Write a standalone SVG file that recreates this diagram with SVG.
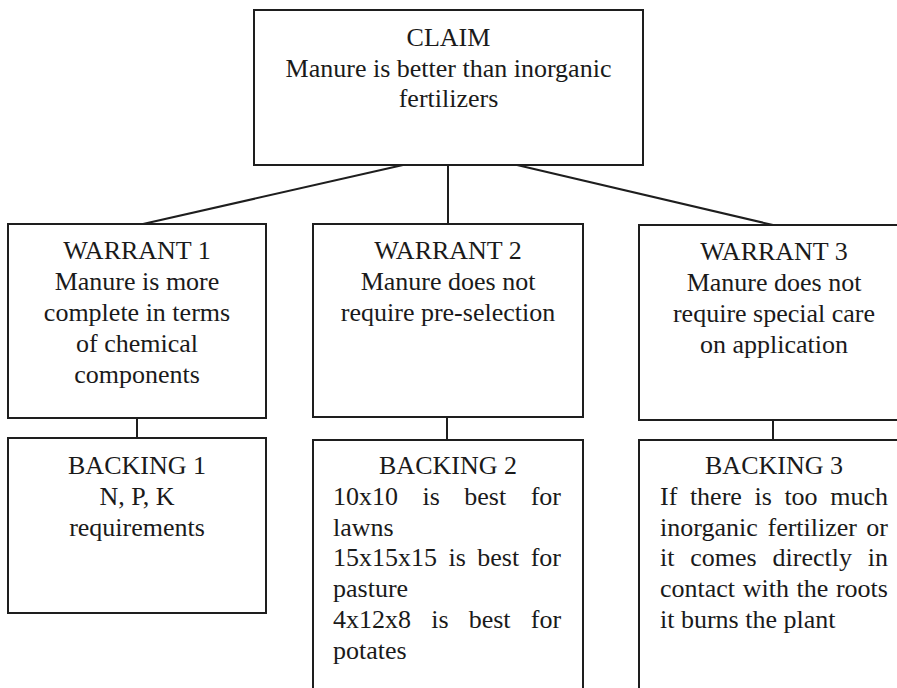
<svg xmlns="http://www.w3.org/2000/svg" width="897" height="688" viewBox="0 0 897 688">
  <style>
    .box { fill: #ffffff; stroke: #1e1e1e; stroke-width: 2; }
    .link { stroke: #1e1e1e; stroke-width: 2; fill: none; }
    text { font-family: "Liberation Serif", "Times New Roman", serif; font-size: 26px; fill: #1a1a1a; }
    .c { text-anchor: middle; }
  </style>
  <rect width="897" height="688" fill="#ffffff"/>

  <!-- connectors -->
  <g id="connectors">
    <line class="link" x1="403" y1="165" x2="143" y2="224"/>
    <line class="link" x1="448" y1="165" x2="448" y2="224"/>
    <line class="link" x1="517" y1="165" x2="773" y2="225"/>
    <line class="link" x1="137" y1="418" x2="137" y2="438"/>
    <line class="link" x1="447" y1="417" x2="447" y2="440"/>
    <line class="link" x1="773" y1="420" x2="773" y2="440"/>
  </g>

  <!-- claim -->
  <g id="claim">
    <rect class="box" x="254" y="10" width="389" height="155"/>
    <text class="c" x="448.5" y="46">CLAIM</text>
    <text class="c" x="448.5" y="77">Manure is better than inorganic</text>
    <text class="c" x="448.5" y="107">fertilizers</text>
  </g>

  <!-- warrants -->
  <g id="warrant1">
    <rect class="box" x="8" y="224" width="258" height="194"/>
    <text class="c" x="137" y="259">WARRANT 1</text>
    <text class="c" x="137" y="290">Manure is more</text>
    <text class="c" x="137" y="321">complete in terms</text>
    <text class="c" x="137" y="352">of chemical</text>
    <text class="c" x="137" y="383">components</text>
  </g>
  <g id="warrant2">
    <rect class="box" x="313" y="224" width="270" height="193"/>
    <text class="c" x="448" y="259">WARRANT 2</text>
    <text class="c" x="448" y="290">Manure does not</text>
    <text class="c" x="448" y="321">require pre-selection</text>
  </g>
  <g id="warrant3">
    <rect class="box" x="639" y="225" width="270" height="195"/>
    <text class="c" x="774" y="260">WARRANT 3</text>
    <text class="c" x="774" y="291">Manure does not</text>
    <text class="c" x="774" y="322">require special care</text>
    <text class="c" x="774" y="353">on application</text>
  </g>

  <!-- backings -->
  <g id="backing1">
    <rect class="box" x="8" y="438" width="258" height="175"/>
    <text class="c" x="137" y="474">BACKING 1</text>
    <text class="c" x="137" y="505">N, P, K</text>
    <text class="c" x="137" y="536">requirements</text>
  </g>
  <g id="backing2">
    <rect class="box" x="313" y="440" width="270" height="260"/>
    <text class="c" x="448" y="474">BACKING 2</text>
    <text y="505"><tspan x="333">10x10</tspan><tspan x="422.5">is</tspan><tspan x="464.3">best</tspan><tspan x="530.7">for</tspan></text>
    <text x="333" y="536">lawns</text>
    <text y="566"><tspan x="333">15x15x15</tspan><tspan x="448.5">is</tspan><tspan x="477.3">best</tspan><tspan x="530.7">for</tspan></text>
    <text x="333" y="597">pasture</text>
    <text y="628"><tspan x="333">4x12x8</tspan><tspan x="431.2">is</tspan><tspan x="468.7">best</tspan><tspan x="530.8">for</tspan></text>
    <text x="333" y="659">potates</text>
  </g>
  <g id="backing3">
    <rect class="box" x="639" y="440" width="270" height="260"/>
    <text class="c" x="774" y="474">BACKING 3</text>
    <text y="505"><tspan x="660">If</tspan><tspan x="689.9">there</tspan><tspan x="754.5">is</tspan><tspan x="784.4">too</tspan><tspan x="830.2">much</tspan></text>
    <text y="536"><tspan x="660">inorganic</tspan><tspan x="767.5">fertilizer</tspan><tspan x="866.3">or</tspan></text>
    <text y="566"><tspan x="660">it</tspan><tspan x="690.3">comes</tspan><tspan x="772.5">directly</tspan><tspan x="867.7">in</tspan></text>
    <text y="597"><tspan x="660">contact</tspan><tspan x="742.7">with</tspan><tspan x="796.5">the</tspan><tspan x="835.9">roots</tspan></text>
    <text x="660" y="628">it burns the plant</text>
  </g>
</svg>
